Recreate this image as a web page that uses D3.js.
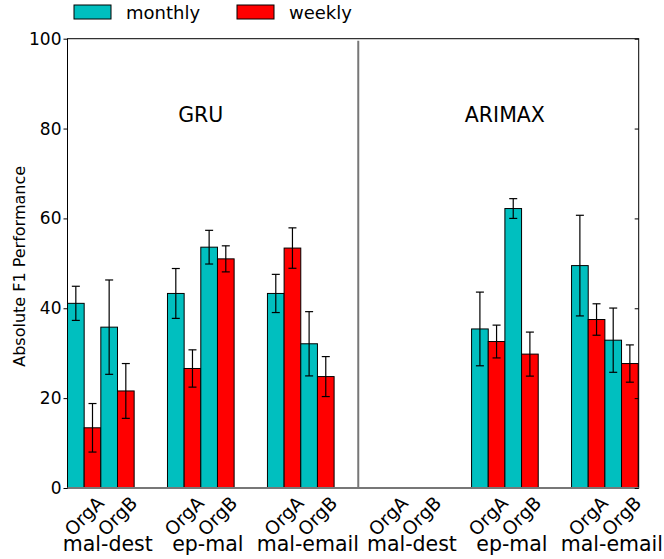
<!DOCTYPE html>
<html>
<head>
<meta charset="utf-8">
<script src="https://cdn.jsdelivr.net/npm/d3@7"></script>
<style>
  html, body { margin: 0; padding: 0; background: #fff; }
  svg { display: block; font-family: "DejaVu Sans", sans-serif; }
</style>
</head>
<body>
<svg id="chart" width="664" height="559"></svg>
<script>
// ---- data ----
const methods = ["GRU", "ARIMAX"];
const categories = ["mal-dest", "ep-mal", "mal-email", "mal-dest", "ep-mal", "mal-email"];
const orgs = ["OrgA", "OrgB"];
const seriesNames = ["monthly", "weekly"];
const seriesColors = ["#00bfbf", "#ff0000"];
// group positions along x (in bar-width units)
const groupPos = [0, 6, 12, 18.25, 24.25, 30.25];
const dividerPos = 17.45;
const xMax = 34.28;
const yTicks = [0, 20, 40, 60, 80, 100];

const monthlyA = [41.1, 43.3, 43.3, 0, 35.4, 49.5];
const weeklyA  = [13.4, 26.6, 53.4, 0, 32.6, 37.5];
const monthlyB = [35.8, 53.6, 32.1, 0, 62.2, 32.9];
const weeklyB  = [21.6, 51.0, 24.8, 0, 29.8, 27.7];

const monthlyAErr = [3.8, 5.55, 4.25, 0, 8.2, 11.2];
const weeklyAErr  = [5.4, 4.15, 4.5, 0, 3.65, 3.5];
const monthlyBErr = [10.5, 3.75, 7.15, 0, 2.2, 7.15];
const weeklyBErr  = [6.1, 2.9, 4.45, 0, 4.9, 4.15];

(function () {
// ---- build bar table ----
const bars = [];
categories.forEach((c, g) => {
  const vals = [monthlyA[g], weeklyA[g], monthlyB[g], weeklyB[g]];
  const errs = [monthlyAErr[g], weeklyAErr[g], monthlyBErr[g], weeklyBErr[g]];
  vals.forEach((v, k) => {
    bars.push({ group: g, x0: groupPos[g] + k, value: v, err: errs[k], series: k % 2 });
  });
});

// ---- layout ----
const svg = d3.select("#chart");
const mLeft = 67.5, mRight = 638.7, mTop = 38.7, mBottom = 488;
const x = d3.scaleLinear().domain([0, xMax]).range([mLeft, mRight]);
const y = d3.scaleLinear().domain([0, 100]).range([mBottom, mTop]);

// bars
svg.append("g").selectAll("rect").data(bars).join("rect")
  .attr("x", d => x(d.x0))
  .attr("y", d => y(d.value))
  .attr("width", d => x(d.x0 + 1) - x(d.x0))
  .attr("height", d => y(0) - y(d.value))
  .attr("fill", d => seriesColors[d.series])
  .attr("stroke", "#000")
  .attr("stroke-width", 1);

// error bars
const eb = svg.append("g").attr("stroke", "#000").attr("stroke-width", 1.2);
bars.filter(d => d.err > 0).forEach(d => {
  const cx = x(d.x0 + 0.5);
  eb.append("line").attr("x1", cx).attr("x2", cx)
    .attr("y1", y(d.value - d.err)).attr("y2", y(d.value + d.err));
  [d.value - d.err, d.value + d.err].forEach(v => {
    eb.append("line").attr("x1", cx - 4).attr("x2", cx + 4)
      .attr("y1", y(v)).attr("y2", y(v));
  });
});

// frame
svg.append("rect").attr("x", mLeft).attr("y", mTop)
  .attr("width", mRight - mLeft).attr("height", mBottom - mTop)
  .attr("fill", "none").attr("stroke", "#000").attr("stroke-width", 1);

// divider and base line
svg.append("line").attr("x1", x(dividerPos)).attr("x2", x(dividerPos))
  .attr("y1", y(0)).attr("y2", y(100) + 2)
  .attr("stroke", "#777").attr("stroke-width", 2);
svg.append("line").attr("x1", mLeft).attr("x2", mRight)
  .attr("y1", y(0)).attr("y2", y(0))
  .attr("stroke", "#777").attr("stroke-width", 2);

// y axis (left, outward ticks)
const yAxisL = svg.append("g").attr("transform", `translate(${mLeft},0)`)
  .call(d3.axisLeft(y).tickValues(yTicks).tickSize(4).tickPadding(2));
yAxisL.select(".domain").remove();
yAxisL.selectAll("text").attr("font-size", 17).attr("font-family", "DejaVu Sans").attr("fill", "#000");
// right ticks (inward)
const yAxisR = svg.append("g").attr("transform", `translate(${mRight},0)`)
  .call(d3.axisLeft(y).tickValues(yTicks).tickSize(4).tickFormat(""));
yAxisR.select(".domain").remove();

// y label
svg.append("text")
  .attr("transform", `translate(19,${(mTop + mBottom) / 2 + 3}) rotate(-90)`)
  .attr("text-anchor", "middle").attr("dominant-baseline", "central")
  .attr("font-size", 16).text("Absolute F1 Performance");

// x tick labels (rotated org names)
categories.forEach((c, g) => {
  orgs.forEach((o, j) => {
    const tx = x(groupPos[g] + 1 + 2 * j);
    svg.append("text")
      .attr("transform", `translate(${tx},516) rotate(-45)`)
      .attr("text-anchor", "middle").attr("dominant-baseline", "central")
      .attr("font-size", 18.5).text(o);
  });
  svg.append("text")
    .attr("x", x(groupPos[g] + 2) + 7).attr("y", 551)
    .attr("text-anchor", "middle").attr("font-size", 20.5).text(c);
});

// method titles
methods.forEach((m, i) => {
  const cx = i === 0 ? (x(groupPos[0]) + x(groupPos[2] + 4)) / 2 : (x(groupPos[3]) + x(groupPos[5] + 4)) / 2;
  svg.append("text").attr("x", cx).attr("y", 122)
    .attr("text-anchor", "middle").attr("font-size", 20.5).text(m);
});

// legend
const legX = [74, 237];
seriesNames.forEach((s, i) => {
  svg.append("rect").attr("x", legX[i]).attr("y", 5).attr("width", 37).attr("height", 14)
    .attr("fill", seriesColors[i]).attr("stroke", "#000").attr("stroke-width", 1);
  svg.append("text").attr("x", legX[i] + 52).attr("y", 19)
    .attr("font-size", 18).text(s);
});
})();
</script>
</body>
</html>
